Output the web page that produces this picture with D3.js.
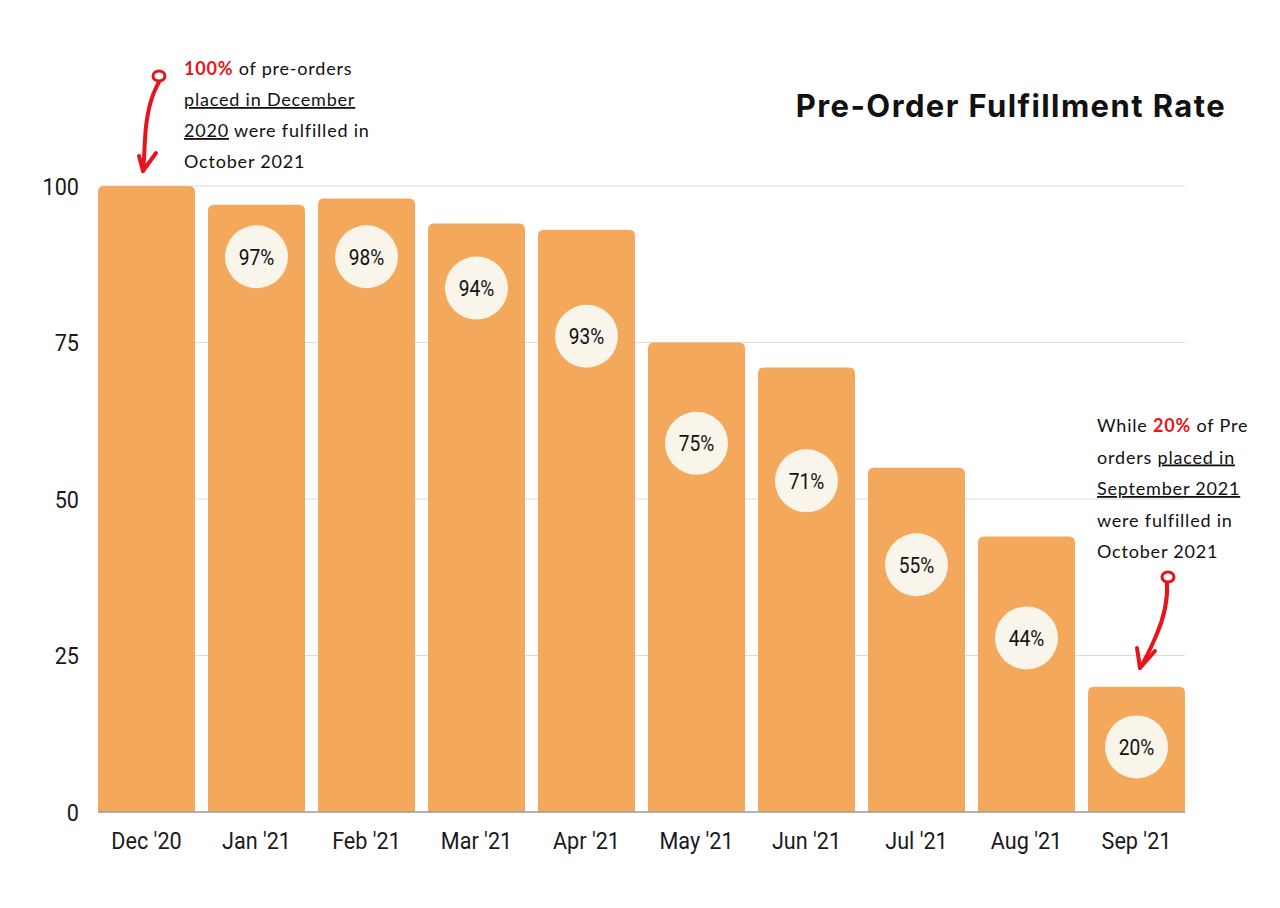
<!DOCTYPE html>
<html>
<head>
<meta charset="utf-8">
<script src="https://cdn.jsdelivr.net/npm/d3@7"></script>
<style>
  html, body { margin: 0; padding: 0; background: #fff; }
  svg { display: block; }
</style>
</head>
<body>
<div id="chart"></div>
<script>
// months and fulfillment share (%)
const months = ["Dec '20", "Jan '21", "Feb '21", "Mar '21", "Apr '21", "May '21", "Jun '21", "Jul '21", "Aug '21", "Sep '21"];
const rates = [100, 97, 98, 94, 93, 75, 71, 55, 44, 20];
// where each badge sits, in axis units (null = no badge)
const badgeLevel = [null, 88.7, 88.7, 83.7, 76.0, 58.9, 52.9, 39.5, 27.8, 10.4];
const yTicks = [0, 25, 50, 75, 100];

const noteLeft = [
    [{ t: "100%", red: true }, { t: " of pre-orders" }],
    [{ t: "placed in December", u: true }],
    [{ t: "2020", u: true }, { t: " were fulfilled in" }],
    [{ t: "October 2021" }]
];
const noteRight = [
    [{ t: "While " }, { t: "20%", red: true }, { t: " of Pre" }],
    [{ t: "orders " }, { t: "placed in", u: true }],
    [{ t: "September 2021", u: true }],
    [{ t: "were fulfilled in" }],
    [{ t: "October 2021" }]
];

const W = 1280, H = 908;
const orange = "#f4a85c", badge = "#f9f5eb", red = "#e8141b";
const squeeze = 0.9; // fake a condensed face

const svg = d3.select("#chart").append("svg")
    .attr("width", W)
    .attr("height", H);

const x = d3.scaleBand()
    .domain(months)
    .range([91.5, 1191.5])
    .paddingInner(13 / 110)
    .paddingOuter(6.5 / 110);

const y = d3.scaleLinear()
    .domain([0, 100])
    .range([812, 186]);

// gridlines
svg.append("g")
    .selectAll("line")
    .data(yTicks.filter(d => d > 0))
    .join("line")
    .attr("x1", 98)
    .attr("x2", 1185)
    .attr("y1", d => y(d))
    .attr("y2", d => y(d))
    .attr("stroke", "#dcdcdc")
    .attr("stroke-width", 1);

// y labels
svg.append("g")
    .selectAll("g")
    .data(yTicks)
    .join("g")
    .attr("transform", d => `translate(79,${y(d)}) scale(${squeeze},1)`)
    .append("text")
    .attr("dy", "0.36em")
    .attr("text-anchor", "end")
    .attr("font-family", "Roboto, sans-serif")
    .attr("font-size", 24)
    .attr("fill", "#1a1a1a")
    .text(d => d);

function topRounded(x0, y0, w, h, r) {
    return `M${x0},${y0 + h}V${y0 + r}Q${x0},${y0} ${x0 + r},${y0}H${x0 + w - r}Q${x0 + w},${y0} ${x0 + w},${y0 + r}V${y0 + h}Z`;
}

// bars
svg.append("g")
    .selectAll("path")
    .data(rates)
    .join("path")
    .attr("d", (d, i) => topRounded(x(months[i]), y(d), x.bandwidth(), y(0) - y(d), 6))
    .attr("fill", orange);

// baseline
svg.append("line")
    .attr("x1", 98).attr("x2", 1185)
    .attr("y1", y(0)).attr("y2", y(0))
    .attr("stroke", "#9a9a9a")
    .attr("stroke-width", 1.5);

// badges
const badges = svg.append("g")
    .selectAll("g")
    .data(rates.map((v, i) => ({ v, m: months[i], at: badgeLevel[i] })).filter(d => d.at !== null))
    .join("g")
    .attr("transform", d => `translate(${x(d.m) + x.bandwidth() / 2},${y(d.at)})`);

badges.append("circle")
    .attr("r", 31.5)
    .attr("fill", badge);

badges.append("text")
    .attr("transform", "scale(0.87,1)")
    .attr("text-anchor", "middle")
    .attr("dy", "0.36em")
    .attr("font-family", "Roboto, sans-serif")
    .attr("font-size", 22)
    .attr("fill", "#111")
    .text(d => d.v + "%");

// x labels
svg.append("g")
    .selectAll("g")
    .data(months)
    .join("g")
    .attr("transform", d => `translate(${x(d) + x.bandwidth() / 2},849) scale(${squeeze},1)`)
    .append("text")
    .attr("text-anchor", "middle")
    .attr("font-family", "Roboto, sans-serif")
    .attr("font-size", 24)
    .attr("fill", "#1a1a1a")
    .text(d => d);

// title
svg.append("text")
    .attr("x", 1226)
    .attr("y", 117)
    .attr("text-anchor", "end")
    .attr("font-family", "Inter, sans-serif")
    .attr("font-weight", 700)
    .attr("font-size", 31)
    .attr("letter-spacing", 1.4)
    .attr("fill", "#111")
    .text("Pre-Order Fulfillment Rate");

// handwritten notes
function note(lines, left, top, step) {
    const g = svg.append("g")
        .attr("font-family", "Lato, sans-serif")
        .attr("font-size", 18)
        .attr("letter-spacing", 0.8)
        .attr("fill", "#111");
    lines.forEach((segs, i) => {
        const t = g.append("text")
            .attr("x", left)
            .attr("y", top + i * step)
            .attr("xml:space", "preserve");
        segs.forEach(s => {
            t.append("tspan")
                .attr("fill", s.red ? red : "#111")
                .attr("font-weight", s.red ? 700 : 400)
                .attr("text-decoration", s.u ? "underline" : null)
                .text(s.t);
        });
    });
}
note(noteLeft, 184, 75, 31);
note(noteRight, 1097, 432, 31.5);

// red arrows
const arrows = svg.append("g")
    .attr("fill", "none")
    .attr("stroke", red)
    .attr("stroke-width", 4)
    .attr("stroke-linecap", "round")
    .attr("stroke-linejoin", "round");

arrows.append("ellipse").attr("cx", 159).attr("cy", 76).attr("rx", 6).attr("ry", 5).attr("stroke-width", 3);
arrows.append("path").attr("d", "M159,82 C151,96 146,116 145,140 C144,155 144,163 143,171");
arrows.append("path").attr("d", "M139,156 L143,171 L156,153");

arrows.append("ellipse").attr("cx", 1168).attr("cy", 577).attr("rx", 6).attr("ry", 5).attr("stroke-width", 3);
arrows.append("path").attr("d", "M1167,583 C1168,600 1163,620 1156,636 C1150,650 1145,660 1140,668");
arrows.append("path").attr("d", "M1137,648 L1140,668 L1155,651");
</script>
</body>
</html>
